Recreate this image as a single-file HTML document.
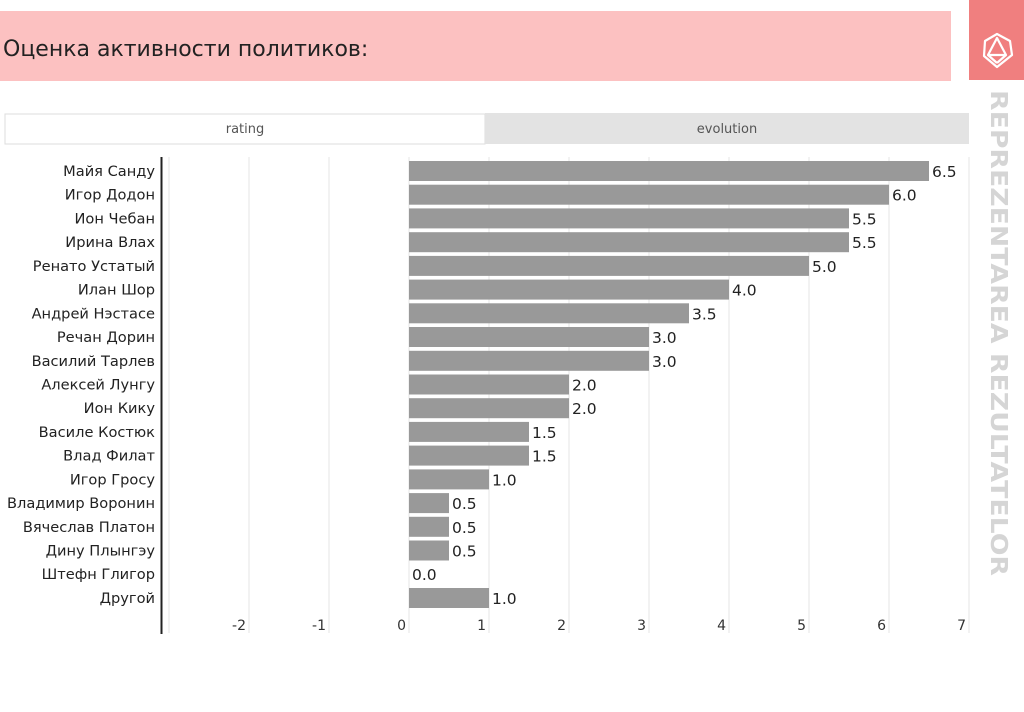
<!DOCTYPE html>
<html><head><meta charset="utf-8"><style>
body{margin:0;width:1024px;height:708px;background:#fff;overflow:hidden;font-family:"DejaVu Sans","Liberation Sans",sans-serif;}
</style></head><body>
<svg width="1024" height="708" xmlns="http://www.w3.org/2000/svg" font-family="DejaVu Sans, Liberation Sans, sans-serif">
<rect x="0" y="11" width="951" height="70" fill="#fcc1c1"/>
<text x="3" y="56" font-size="22" fill="#222">Оценка активности политиков:</text>
<rect x="969" y="0" width="55" height="80" fill="#f07f7f"/>
<g fill="none" stroke="#fff" stroke-width="2.2" stroke-linejoin="round">
<polygon points="997,34 1010,41 1012,55 997,67 984,56 985,41"/>
<polygon points="997,38 1006,55 988,55"/>
<line x1="988" y1="55" x2="997" y2="63"/><line x1="1006" y1="55" x2="997" y2="63"/>
</g>
<text transform="translate(991,90) rotate(90)" font-size="23" font-weight="bold" fill="#d5d5d5" textLength="486" lengthAdjust="spacingAndGlyphs">REPREZENTAREA REZULTATELOR</text>
<rect x="5" y="114" width="480" height="30" fill="#fff" stroke="#ddd"/>
<rect x="485" y="113" width="484" height="31" fill="#e3e3e3"/>
<text x="245" y="133" font-size="13" fill="#555" text-anchor="middle">rating</text>
<text x="727" y="133" font-size="13" fill="#555" text-anchor="middle">evolution</text>
<g stroke="#e6e6e6" stroke-width="1">
<line x1="169" y1="157" x2="169" y2="633"/><line x1="249" y1="157" x2="249" y2="633"/><line x1="329" y1="157" x2="329" y2="633"/><line x1="409" y1="157" x2="409" y2="633"/><line x1="489" y1="157" x2="489" y2="633"/><line x1="569" y1="157" x2="569" y2="633"/><line x1="649" y1="157" x2="649" y2="633"/><line x1="729" y1="157" x2="729" y2="633"/><line x1="809" y1="157" x2="809" y2="633"/><line x1="889" y1="157" x2="889" y2="633"/><line x1="969" y1="157" x2="969" y2="633"/>
</g>
<line x1="161.5" y1="157" x2="161.5" y2="634" stroke="#222" stroke-width="2"/>
<g font-size="14" fill="#333" text-anchor="end">
<text x="246" y="630">-2</text><text x="326" y="630">-1</text><text x="406" y="630">0</text><text x="486" y="630">1</text><text x="566" y="630">2</text><text x="646" y="630">3</text><text x="726" y="630">4</text><text x="806" y="630">5</text><text x="886" y="630">6</text><text x="966" y="630">7</text>
</g>
<g fill="#999">
<rect x="409" y="161" width="520" height="20"/>
<rect x="409" y="184.7" width="480" height="20"/>
<rect x="409" y="208.4" width="440" height="20"/>
<rect x="409" y="232.2" width="440" height="20"/>
<rect x="409" y="255.9" width="400" height="20"/>
<rect x="409" y="279.6" width="320" height="20"/>
<rect x="409" y="303.3" width="280" height="20"/>
<rect x="409" y="327" width="240" height="20"/>
<rect x="409" y="350.8" width="240" height="20"/>
<rect x="409" y="374.5" width="160" height="20"/>
<rect x="409" y="398.2" width="160" height="20"/>
<rect x="409" y="421.9" width="120" height="20"/>
<rect x="409" y="445.6" width="120" height="20"/>
<rect x="409" y="469.4" width="80" height="20"/>
<rect x="409" y="493.1" width="40" height="20"/>
<rect x="409" y="516.8" width="40" height="20"/>
<rect x="409" y="540.5" width="40" height="20"/>
<rect x="409" y="588" width="80" height="20"/>
</g>
<g font-size="14.6" fill="#222" text-anchor="end">
<text x="155" y="176">Майя Санду</text>
<text x="155" y="199.7">Игор Додон</text>
<text x="155" y="223.4">Ион Чебан</text>
<text x="155" y="247.2">Ирина Влах</text>
<text x="155" y="270.9">Ренато Устатый</text>
<text x="155" y="294.6">Илан Шор</text>
<text x="155" y="318.3">Андрей Нэстасе</text>
<text x="155" y="342">Речан Дорин</text>
<text x="155" y="365.8">Василий Тарлев</text>
<text x="155" y="389.5">Алексей Лунгу</text>
<text x="155" y="413.2">Ион Кику</text>
<text x="155" y="436.9">Василе Костюк</text>
<text x="155" y="460.6">Влад Филат</text>
<text x="155" y="484.4">Игор Гросу</text>
<text x="155" y="508.1">Владимир Воронин</text>
<text x="155" y="531.8">Вячеслав Платон</text>
<text x="155" y="555.5">Дину Плынгэу</text>
<text x="155" y="579.2">Штефн Глигор</text>
<text x="155" y="603">Другой</text>
</g>
<g font-size="15.5" fill="#222">
<text x="932" y="177">6.5</text>
<text x="892" y="200.7">6.0</text>
<text x="852" y="224.4">5.5</text>
<text x="852" y="248.2">5.5</text>
<text x="812" y="271.9">5.0</text>
<text x="732" y="295.6">4.0</text>
<text x="692" y="319.3">3.5</text>
<text x="652" y="343">3.0</text>
<text x="652" y="366.8">3.0</text>
<text x="572" y="390.5">2.0</text>
<text x="572" y="414.2">2.0</text>
<text x="532" y="437.9">1.5</text>
<text x="532" y="461.6">1.5</text>
<text x="492" y="485.4">1.0</text>
<text x="452" y="509.1">0.5</text>
<text x="452" y="532.8">0.5</text>
<text x="452" y="556.5">0.5</text>
<text x="412" y="580.2">0.0</text>
<text x="492" y="604">1.0</text>
</g>
</svg>
</body></html>
